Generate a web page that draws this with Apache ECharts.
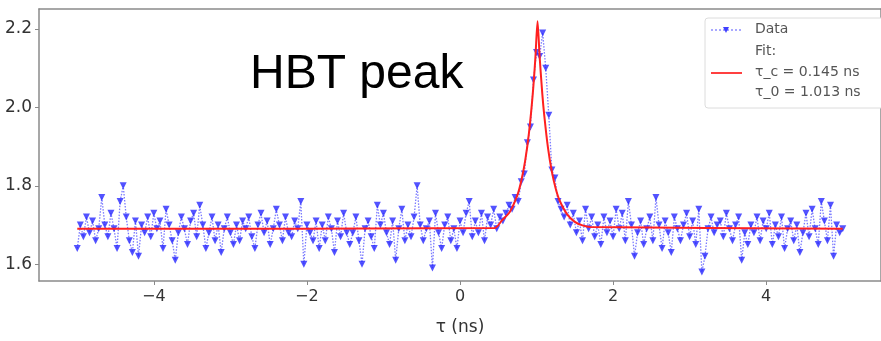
<!DOCTYPE html>
<html>
<head>
<meta charset="utf-8">
<script src="https://cdn.jsdelivr.net/npm/echarts@6/dist/echarts.min.js"></script>
<style>
  html, body { margin: 0; padding: 0; background: #fff; }
  #chart { width: 881px; height: 341px; }
</style>
</head>
<body>
<div id="chart"></div>
<script>
// 采样网格: tau 从 -5 到 5, 步长 0.04 ns
const tauStart = -5
const tauStep = 0.04

// 测量数据 g2(tau)
const g2Values = [
  1.64, 1.70, 1.67, 1.72, 1.68, 1.71, 1.66, 1.69, 1.77, 1.70,
  1.67, 1.73, 1.69, 1.64, 1.76, 1.80, 1.72, 1.66, 1.63, 1.71,
  1.62, 1.70, 1.68, 1.72, 1.67, 1.73, 1.69, 1.71, 1.64, 1.74,
  1.70, 1.66, 1.61, 1.68, 1.72, 1.69, 1.65, 1.71, 1.73, 1.67,
  1.75, 1.70, 1.64, 1.68, 1.72, 1.66, 1.70, 1.63, 1.69, 1.72,
  1.68, 1.65, 1.70, 1.66, 1.71, 1.69, 1.72, 1.67, 1.64, 1.70,
  1.73, 1.68, 1.71, 1.65, 1.69, 1.74, 1.70, 1.66, 1.72, 1.68,
  1.67, 1.71, 1.69, 1.76, 1.60, 1.70, 1.68, 1.66, 1.71, 1.64,
  1.70, 1.66, 1.72, 1.69, 1.63, 1.71, 1.67, 1.73, 1.68, 1.65,
  1.68, 1.72, 1.66, 1.60, 1.69, 1.71, 1.67, 1.64, 1.75, 1.70,
  1.73, 1.68, 1.65, 1.71, 1.61, 1.69, 1.74, 1.66, 1.70, 1.67,
  1.72, 1.80, 1.70, 1.66, 1.69, 1.71, 1.59, 1.73, 1.68, 1.64,
  1.70, 1.72, 1.66, 1.69, 1.64, 1.71, 1.68, 1.73, 1.76, 1.67,
  1.71, 1.68, 1.73, 1.66, 1.72, 1.70, 1.74, 1.69, 1.72, 1.71,
  1.73, 1.75, 1.74, 1.77, 1.76, 1.81, 1.83, 1.91, 1.95, 2.07,
  2.14, 2.13, 2.19, 2.10, 1.98, 1.84, 1.82, 1.76, 1.74, 1.72,
  1.75, 1.70, 1.73, 1.68, 1.71, 1.66, 1.74, 1.69, 1.72, 1.67,
  1.70, 1.65, 1.72, 1.68, 1.71, 1.67, 1.74, 1.69, 1.73, 1.66,
  1.76, 1.70, 1.62, 1.68, 1.71, 1.65, 1.69, 1.72, 1.66, 1.77,
  1.70, 1.64, 1.71, 1.68, 1.63, 1.72, 1.69, 1.66, 1.70, 1.73,
  1.67, 1.71, 1.65, 1.74, 1.58, 1.62, 1.69, 1.72, 1.68, 1.70,
  1.71, 1.67, 1.73, 1.69, 1.66, 1.70, 1.72, 1.61, 1.68, 1.65,
  1.70, 1.68, 1.72, 1.66, 1.71, 1.69, 1.73, 1.65, 1.70, 1.67,
  1.72, 1.64, 1.69, 1.71, 1.66, 1.70, 1.63, 1.68, 1.73, 1.67,
  1.74, 1.69, 1.65, 1.76, 1.71, 1.66, 1.75, 1.62, 1.70, 1.68,
  1.69
]

// 拟合曲线 (tau_c = 0.145 ns, tau_0 = 1.013 ns)
const fitTau = [-5, 0.45, 0.55, 0.65, 0.75, 0.8, 0.85, 0.9, 0.95, 0.985, 1.013,
  1.04, 1.075, 1.1, 1.15, 1.2, 1.25, 1.3, 1.4, 1.5, 1.6, 1.7, 5]
const fitValues = [1.69, 1.692, 1.712, 1.733, 1.776, 1.812, 1.862, 1.933, 2.033, 2.127, 2.22,
  2.13, 2.035, 1.981, 1.896, 1.836, 1.793, 1.763, 1.727, 1.708, 1.699, 1.695, 1.69]

// 刻度
const xTicks = [-4, -2, 0, 2, 4]
const yTicks = [1.6, 1.8, 2.0, 2.2]

const legendTexts = ['Data', 'Fit:', 'τ_c = 0.145 ns', 'τ_0 = 1.013 ns']

const chart = echarts.init(document.getElementById('chart'))

const dataPoints = g2Values.map((v, i) => [+(tauStart + i * tauStep).toFixed(2), v])
const fitPoints = fitTau.map((t, i) => [t, fitValues[i]])

const frameColor = '#8a8a8a'
const labelFont = 'DejaVu Sans'

const option = {
  animation: false,
  grid: { left: 39, top: 9, width: 847, height: 273, containLabel: false },
  xAxis: [
    {
      type: 'value', min: -5.5, max: 5.5,
      name: 'τ (ns)', nameLocation: 'middle', nameGap: 38,
      nameTextStyle: { fontFamily: labelFont, fontSize: 17, color: '#333' },
      axisLine: { show: true, onZero: false, lineStyle: { color: frameColor, width: 1.5 } },
      axisTick: { show: true, length: 4, customValues: xTicks, lineStyle: { color: frameColor } },
      axisLabel: {
        customValues: xTicks, margin: 8,
        fontFamily: labelFont, fontSize: 16, color: '#333',
        formatter: v => String(v).replace('-', '\u2212')
      },
      splitLine: { show: false }
    },
    {
      type: 'value', min: -5.5, max: 5.5, position: 'top',
      axisLine: { show: true, onZero: false, lineStyle: { color: frameColor, width: 1.5 } },
      axisTick: { show: false }, axisLabel: { show: false }, splitLine: { show: false }
    }
  ],
  yAxis: [
    {
      type: 'value', min: 1.557, max: 2.251,
      axisLine: { show: true, onZero: false, lineStyle: { color: frameColor, width: 1.5 } },
      axisTick: { show: true, length: 4, customValues: yTicks, lineStyle: { color: frameColor } },
      axisLabel: {
        customValues: yTicks, margin: 7,
        fontFamily: labelFont, fontSize: 17, color: '#333',
        formatter: v => v.toFixed(1)
      },
      splitLine: { show: false }
    },
    {
      type: 'value', min: 1.557, max: 2.251, position: 'right',
      axisLine: { show: true, onZero: false, lineStyle: { color: frameColor, width: 1.5 } },
      axisTick: { show: false }, axisLabel: { show: false }, splitLine: { show: false }
    }
  ],
  series: [
    {
      name: 'Data',
      type: 'line',
      data: dataPoints,
      symbol: 'triangle',
      symbolRotate: 180,
      symbolSize: 7,
      itemStyle: { color: 'rgba(40,40,255,0.8)' },
      lineStyle: { color: 'rgba(50,50,255,0.65)', width: 1.3, type: [1.5, 1.5] },
      z: 2
    },
    {
      name: 'Fit',
      type: 'line',
      data: fitPoints,
      symbol: 'none',
      smooth: 0.25,
      lineStyle: { color: '#ff2020', width: 2 },
      z: 3
    }
  ],
  graphic: [
    {
      type: 'text', left: 250, top: 51, z: 10,
      style: { text: 'HBT peak', fontFamily: 'Liberation Sans', fontSize: 48, fill: '#000' }
    },
    // 图例框
    {
      type: 'rect', z: 10,
      shape: { x: 705, y: 18, width: 180, height: 90, r: 3 },
      style: { fill: '#fff', stroke: '#dcdcdc', lineWidth: 1 }
    },
    {
      type: 'line', z: 11,
      shape: { x1: 711, y1: 30, x2: 742, y2: 30 },
      style: { stroke: 'rgba(40,40,255,0.8)', lineWidth: 1, lineDash: [2, 2] }
    },
    {
      type: 'polygon', z: 11,
      shape: { points: [[723, 27], [729, 27], [726, 33]] },
      style: { fill: 'rgba(30,30,255,0.85)' }
    },
    {
      type: 'line', z: 11,
      shape: { x1: 711, y1: 73, x2: 742, y2: 73 },
      style: { stroke: '#ff4040', lineWidth: 2 }
    },
    {
      type: 'text', z: 11, left: 755, top: 22,
      style: { text: legendTexts[0], fontFamily: labelFont, fontSize: 14, fill: '#555' }
    },
    {
      type: 'text', z: 11, left: 755, top: 44,
      style: { text: legendTexts[1], fontFamily: labelFont, fontSize: 14, fill: '#555' }
    },
    {
      type: 'text', z: 11, left: 755, top: 65,
      style: { text: legendTexts[2], fontFamily: labelFont, fontSize: 14, fill: '#555' }
    },
    {
      type: 'text', z: 11, left: 755, top: 85,
      style: { text: legendTexts[3], fontFamily: labelFont, fontSize: 14, fill: '#555' }
    }
  ]
}

chart.setOption(option)
</script>
</body>
</html>
